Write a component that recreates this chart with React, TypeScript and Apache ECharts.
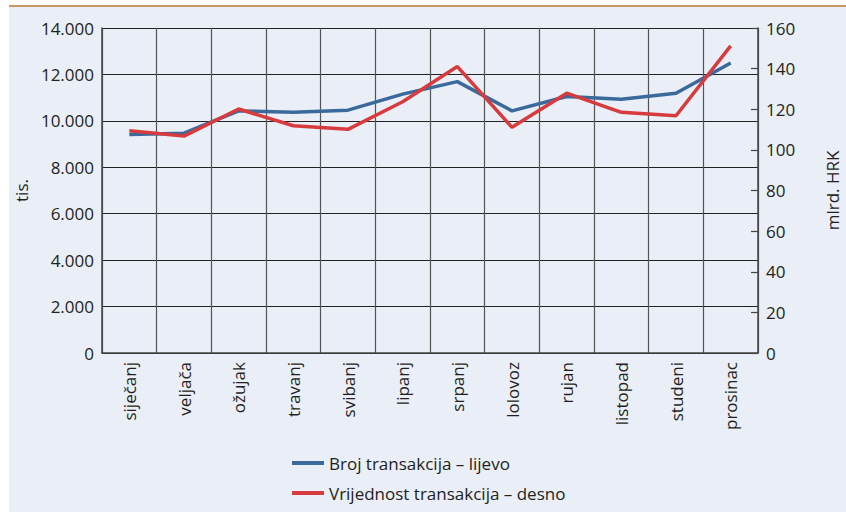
import React, { useEffect, useRef } from "react";
import * as echarts from "echarts";

const categories = [
  "siječanj", "veljača", "ožujak", "travanj", "svibanj", "lipanj",
  "srpanj", "lolovoz", "rujan", "listopad", "studeni", "prosinac",
];
const brojTransakcija = [9410, 9470, 10430, 10375, 10460, 11150, 11690, 10430, 11050, 10930, 11190, 12490];
const vrijednostTransakcija = [109.4, 106.8, 120.1, 111.9, 110.1, 123.7, 141.0, 111.1, 127.9, 118.5, 116.8, 151.2];
const seriesNames = ["Broj transakcija – lijevo", "Vrijednost transakcija – desno"];
const leftAxisName = "tis.";
const rightAxisName = "mlrd. HRK";

const FONT = "'Open Sans', 'Noto Sans', sans-serif";
const TEXT = "#231f20";
const BLUE = "#3a6a9c";
const RED = "#d83b3d";

export default function App() {
  const ref = useRef<HTMLDivElement>(null);
  useEffect(() => {
    document.body.style.margin = "0";
    const chart = echarts.init(ref.current!, null, { renderer: "svg" });
    const fmt = (v: number) => (v === 0 ? "0" : v.toLocaleString("de-DE"));
    chart.setOption({
      animation: false,
      backgroundColor: "#ffffff",
      textStyle: { fontFamily: FONT, color: TEXT },
      graphic: [
        { type: "rect", shape: { x: 9, y: 7, width: 846, height: 512 }, style: { fill: "#e9eef7" }, z: -10 },
        { type: "rect", shape: { x: 9, y: 5, width: 846, height: 2 }, style: { fill: "#c49a60" }, z: -10 },
      ],
      grid: { left: 102, right: 88, top: 28, bottom: 159, containLabel: false, outerBoundsMode: "none" },
      legend: {
        orient: "vertical",
        left: 287,
        top: 449,
        icon: "rect",
        itemWidth: 32,
        itemHeight: 4,
        itemGap: 12,
        textStyle: { fontFamily: FONT, fontSize: 17, color: TEXT, lineHeight: 18 },
        data: seriesNames,
      },
      xAxis: {
        type: "category",
        data: categories,
        boundaryGap: true,
        axisLine: { show: true, lineStyle: { color: "#444", width: 1.5 } },
        axisTick: { show: false },
        splitLine: { show: true, interval: 0, lineStyle: { color: "#555", width: 1.2 } },
        axisLabel: {
          interval: 0,
          rotate: 90,
          margin: 9,
          fontFamily: FONT,
          fontSize: 17,
          color: TEXT,
        },
      },
      yAxis: [
        {
          type: "value",
          min: 0,
          max: 14000,
          interval: 2000,
          name: leftAxisName,
          nameLocation: "middle",
          nameGap: 68,
          nameRotate: 90,
          nameTextStyle: { fontFamily: FONT, fontSize: 17, color: TEXT },
          axisLine: { show: true, lineStyle: { color: "#444", width: 1.5 } },
          axisTick: { show: false },
          splitLine: { show: true, lineStyle: { color: "#222", width: 1 } },
          axisLabel: { formatter: fmt, fontFamily: FONT, fontSize: 17, color: TEXT, margin: 8 },
        },
        {
          type: "value",
          min: 0,
          max: 160,
          interval: 20,
          position: "right",
          name: rightAxisName,
          nameLocation: "middle",
          nameGap: 66,
          nameRotate: 90,
          nameTextStyle: { fontFamily: FONT, fontSize: 17, color: TEXT, lineHeight: 17 },
          axisLine: { show: true, lineStyle: { color: "#444", width: 1.5 } },
          axisTick: { show: true, inside: true, length: 7, lineStyle: { color: "#444", width: 1.2 } },
          splitLine: { show: false },
          axisLabel: { fontFamily: FONT, fontSize: 17, color: TEXT, margin: 8 },
        },
      ],
      series: [
        {
          name: seriesNames[0],
          type: "line",
          yAxisIndex: 0,
          data: brojTransakcija,
          showSymbol: false,
          symbol: "none",
          lineStyle: { color: BLUE, width: 3.5 },
          itemStyle: { color: BLUE },
          z: 3,
        },
        {
          name: seriesNames[1],
          type: "line",
          yAxisIndex: 1,
          data: vrijednostTransakcija,
          showSymbol: false,
          symbol: "none",
          lineStyle: { color: RED, width: 3.5 },
          itemStyle: { color: RED },
          z: 4,
        },
      ],
    });
    return () => chart.dispose();
  }, []);
  return <div ref={ref} style={{ width: 846, height: 512 }} />;
}
